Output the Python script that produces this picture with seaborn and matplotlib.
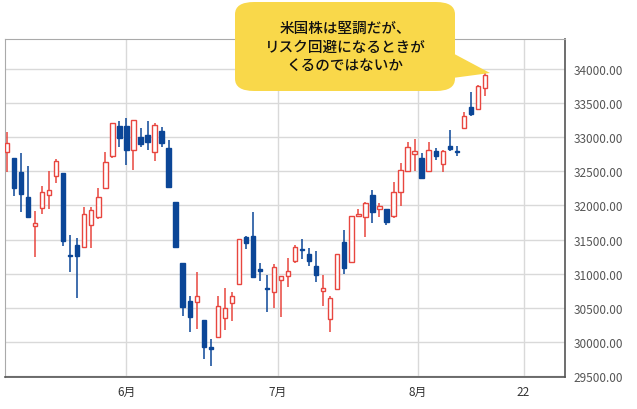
import matplotlib
matplotlib.use("Agg")
import matplotlib.pyplot as plt
import seaborn as sns
import numpy as np
from matplotlib.patches import FancyBboxPatch, Polygon

opens  = [32778,32690,32495,32128,31703,31967,32152,32426,32470,31273,31424,31395,31718,31825,32250,32719,33169,33169,32817,32998,33037,32788,33096,32837,32055,31156,30594,30579,30320,29919,30076,30350,30569,30848,31532,31546,31063,30789,30735,30911,30970,31190,31356,31288,31107,30750,30335,30775,31469,31166,31840,31826,32153,31948,31948,31850,32192,32510,32754,32691,32510,32803,32608,32876,32803,33131,33448,33414,33717]
closes = [32910,32250,32167,31825,31737,32192,32226,32656,31483,31253,31263,31874,31938,32118,32641,33208,32988,32817,33252,32900,32925,33184,32915,32265,31395,30506,30359,30677,29919,29900,30530,30491,30677,31507,31444,30945,31043,30774,31092,30970,31034,31385,31341,31180,30980,30784,30638,31288,31078,31840,31874,32036,31909,31997,31762,32192,32524,32852,32803,32397,32818,32730,32803,32828,32779,33306,33341,33756,33917]
highs  = [33071,32690,32763,32583,31923,32280,32509,32680,32470,31571,31517,31972,31972,32250,32778,33208,33233,33281,33252,33135,33242,33208,33145,32964,32055,31156,30677,31019,30320,30041,30667,30784,30726,31507,31556,31898,31156,30980,31141,30970,31224,31424,31507,31370,31337,30980,30677,31288,31645,31840,31948,32046,32231,32036,31948,32349,32622,32925,32974,32769,32925,32837,32818,33111,32876,33365,33658,33766,33961]
lows   = [32485,32133,31898,31825,31239,31874,31947,32328,31410,31029,30638,31395,31376,31800,32250,32695,32851,32592,32524,32851,32817,32656,32851,32265,31395,30384,30149,30188,29748,29650,30076,30178,30310,30848,31361,30945,30897,30442,30491,30369,30799,31156,31214,31117,30883,30531,30149,30775,30995,31166,31826,31532,31743,31826,31713,31811,31987,32510,32510,32397,32510,32671,32495,32803,32720,33131,33306,33414,33600]
tick_pos = [17, 38.5, 58.5, 73.5]
tick_labels = ["6月", "7月", "8月", "22"]
yticks = list(range(29500, 34001, 500))
callout = "米国株は堅調だが、\nリスク回避になるときが\nくるのではないか"

sns.set_style("white")
plt.rcParams['font.family'] = ['Noto Sans CJK JP', 'DejaVu Sans']

RED = "#e8463f"; BLUE = "#0b4697"
fig = plt.figure(figsize=(6.37, 4.10), dpi=100)
ax = fig.add_axes([5/637, 1-378/410, 560/637, 338/410])
x = np.arange(len(opens))
for i in x:
    o, c, h, l = opens[i], closes[i], highs[i], lows[i]
    up = c >= o
    col = RED if up else BLUE
    ax.vlines(i, l, h, color=col, lw=1.1, zorder=2)
    lo, hi = min(o, c), max(o, c)
    hgt = max(hi - lo, 12)
    if up:
        ax.bar(i, hgt, bottom=lo, width=0.62, facecolor="white", edgecolor=col, lw=1.0, zorder=3)
    else:
        ax.bar(i, hgt, bottom=lo, width=0.62, facecolor=col, edgecolor=col, lw=1.0, zorder=3)

ax.set_xlim(-0.28, 79.4)
ax.set_ylim(29485, 34440)
ax.set_yticks(yticks)
ax.set_xticks(tick_pos)
ax.set_xticklabels(tick_labels, fontsize=8.5, color="#333333")
ax.yaxis.tick_right()
ax.set_yticklabels([f"{v:.2f}" for v in yticks], fontsize=8.5, color="#555555")
ax.grid(True, color="#d9d9d9", lw=1)
ax.set_axisbelow(True)
ax.tick_params(length=0, pad=6)
for s in ["left", "top"]:
    ax.spines[s].set_color("#aaaaaa")
for s in ["right", "bottom"]:
    ax.spines[s].set_color("#555555")
    ax.spines[s].set_linewidth(1.2)

# callout
bx0, by0, bx1, by1 = 235/637, 1-92/410, 455/637, 1-3/410
box = FancyBboxPatch((bx0, by0), bx1-bx0, by1-by0, boxstyle="round,pad=0,rounding_size=0.03",
                     transform=fig.transFigure, facecolor="#f9d84a", edgecolor="none", zorder=10)
fig.patches.append(box)
tail = Polygon([(445/637, 1-50/410), (490/637, 1-74/410), (445/637, 1-80/410)], closed=True,
               transform=fig.transFigure, facecolor="#f9d84a", edgecolor="none", zorder=10)
fig.patches.append(tail)
fig.text((bx0+bx1)/2, (by0+by1)/2, callout, ha="center", va="center", fontsize=10.5,
         fontweight="medium", linespacing=1.45, color="#111111", zorder=11)
fig.savefig("out.png", dpi=100)
